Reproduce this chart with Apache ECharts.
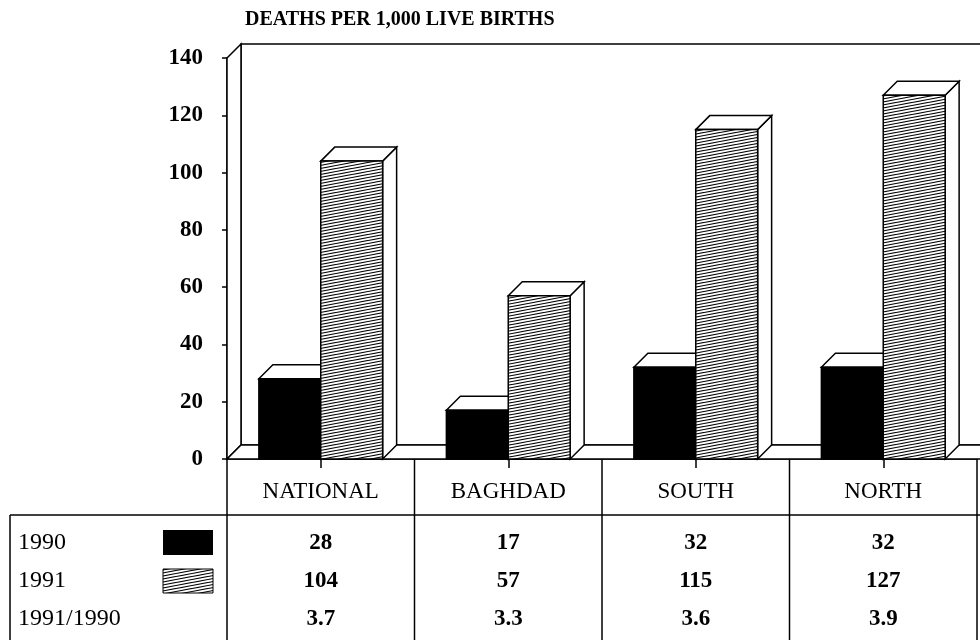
<!DOCTYPE html>
<html>
<head>
<meta charset="utf-8">
<script src="https://cdn.jsdelivr.net/npm/echarts@6/dist/echarts.min.js"></script>
<style>
  html, body { margin: 0; padding: 0; background: #fff; }
  #chart { width: 980px; height: 640px; }
</style>
</head>
<body>
<div id="chart"></div>
<script>
// data
var categories = ['NATIONAL', 'BAGHDAD', 'SOUTH', 'NORTH'];
var rate1990 = [28, 17, 32, 32];
var rate1991 = [104, 57, 115, 127];
var ratio = ['3.7', '3.3', '3.6', '3.9'];
var rowLabels = ['1990', '1991', '1991/1990'];
var yMin = 0, yMax = 140, yStep = 20;

var FONT = 'Liberation Serif, serif';
var DEPTH = 14;          // 3d offset of the walls and bars
var LW = 1.5;
var GRID = {left: 227, right: 3, top: 58, bottom: 181};

// fine diagonal hatch for the 1991 bars
function makeHatch() {
    var c = document.createElement('canvas');
    c.width = 16; c.height = 6;
    var g = c.getContext('2d');
    g.fillStyle = '#fff';
    g.fillRect(0, 0, 16, 6);
    g.strokeStyle = '#000';
    g.lineWidth = 1.2;
    for (var k = -6; k <= 12; k += 3) {
        g.beginPath();
        g.moveTo(0, k + 0.5);
        g.lineTo(16, k - 3 + 0.5);
        g.stroke();
    }
    return c;
}
var hatchFill = {image: makeHatch(), repeat: 'repeat'};

var edge = {stroke: '#000', lineWidth: LW};

function renderFrame(params, api) {
    var cs = params.coordSys, d = DEPTH;
    var x = cs.x, y = cs.y, w = cs.width, h = cs.height;
    return {
        type: 'group',
        children: [
            // back wall
            {type: 'rect', shape: {x: x + d, y: y - d, width: w + 20, height: h},
                style: {fill: '#fff', stroke: '#000', lineWidth: LW}},
            // left wall
            {type: 'polygon', shape: {points: [[x, y], [x + d, y - d], [x + d, y + h - d], [x, y + h]]},
                style: {fill: '#fff', stroke: '#000', lineWidth: LW}},
            // floor
            {type: 'polygon', shape: {points: [[x, y + h], [x + d, y + h - d], [x + w + d + 20, y + h - d], [x + w + 20, y + h]]},
                style: {fill: '#fff', stroke: '#000', lineWidth: LW}}
        ]
    };
}

function bar3d(side, fill) {
    return function (params, api) {
        var i = api.value(0);
        var top = api.coord([i, api.value(1)]);
        var base = api.coord([i, 0]);
        var w = api.size([1, 0])[0] * 0.33;
        var x0 = side < 0 ? top[0] - w : top[0];
        var x1 = x0 + w, yt = top[1], yb = base[1], d = DEPTH;
        return {
            type: 'group',
            children: [
                {type: 'polygon', shape: {points: [[x1, yb], [x1, yt], [x1 + d, yt - d], [x1 + d, yb - d]]},
                    style: {fill: '#fff', stroke: '#000', lineWidth: LW}},
                {type: 'polygon', shape: {points: [[x0, yt], [x0 + d, yt - d], [x1 + d, yt - d], [x1, yt]]},
                    style: {fill: '#fff', stroke: '#000', lineWidth: LW}},
                {type: 'rect', shape: {x: x0, y: yt, width: w, height: yb - yt},
                    style: {fill: fill, stroke: '#000', lineWidth: LW}}
            ]
        };
    };
}

function txt(x, y, s, size, weight, align) {
    return {type: 'text', x: x, y: y,
        style: {text: s, fontFamily: FONT, fontSize: size, fontWeight: weight, fill: '#000',
            align: align, verticalAlign: 'middle'}};
}

var chart = echarts.init(document.getElementById('chart'), null, {renderer: 'canvas'});

chart.setOption({
    animation: false,
    backgroundColor: '#fff',
    textStyle: {fontFamily: FONT},
    grid: GRID,
    xAxis: {
        type: 'category',
        data: categories,
        boundaryGap: true,
        axisLine: {show: true, lineStyle: {color: '#000', width: LW}},
        axisTick: {show: true, alignWithLabel: true, length: 9, lineStyle: {color: '#000', width: LW}},
        axisLabel: {margin: 21, color: '#000', fontFamily: FONT, fontSize: 23}
    },
    yAxis: {
        type: 'value',
        min: yMin, max: yMax, interval: yStep,
        splitLine: {show: false},
        axisLine: {show: true, lineStyle: {color: '#000', width: LW}},
        axisTick: {show: true, length: 5, lineStyle: {color: '#000', width: LW}},
        axisLabel: {margin: 24, color: '#000', fontFamily: FONT, fontSize: 23, fontWeight: 'bold'}
    },
    series: [
        {type: 'custom', name: 'frame', renderItem: renderFrame, data: [[0, 0]], clip: false, silent: true, z: 1},
        {type: 'custom', name: '1990', renderItem: bar3d(-1, '#000'),
            data: rate1990.map(function (v, i) { return [i, v]; }), clip: false, z: 2},
        {type: 'custom', name: '1991', renderItem: bar3d(1, hatchFill),
            data: rate1991.map(function (v, i) { return [i, v]; }), clip: false, z: 3}
    ]
});

// data table under the axis
var baseY = chart.convertToPixel({yAxisIndex: 0}, 0);
var colW = (980 - GRID.left - GRID.right) / categories.length;
var tableTop = baseY + 56;
var rowY = [tableTop + 28, tableTop + 66, tableTop + 104];
var g = [];

g.push(txt(245, 20, 'DEATHS PER 1,000 LIVE BIRTHS', 20, 'bold', 'left'));

g.push({type: 'line', shape: {x1: 10, y1: tableTop, x2: 980, y2: tableTop}, style: edge});
g.push({type: 'line', shape: {x1: 10, y1: tableTop, x2: 10, y2: 640}, style: edge});
for (var k = 0; k <= categories.length; k++) {
    var lx = GRID.left + k * colW;
    g.push({type: 'line', shape: {x1: lx, y1: baseY, x2: lx, y2: 640}, style: edge});
}

rowLabels.forEach(function (t, r) {
    g.push(txt(18, rowY[r], t, 24, 'normal', 'left'));
});

g.push({type: 'rect', shape: {x: 163, y: rowY[0] - 13, width: 50, height: 25}, style: {fill: '#000'}});
g.push({type: 'rect', shape: {x: 163, y: rowY[1] - 12, width: 50, height: 24},
    style: {fill: hatchFill, stroke: '#000', lineWidth: 1}});

var rows = [rate1990, rate1991, ratio];
categories.forEach(function (c, i) {
    var cx = chart.convertToPixel({xAxisIndex: 0}, i);
    rows.forEach(function (vals, r) {
        g.push(txt(cx, rowY[r], String(vals[i]), 23, 'bold', 'center'));
    });
});

chart.setOption({graphic: g});
</script>
</body>
</html>
